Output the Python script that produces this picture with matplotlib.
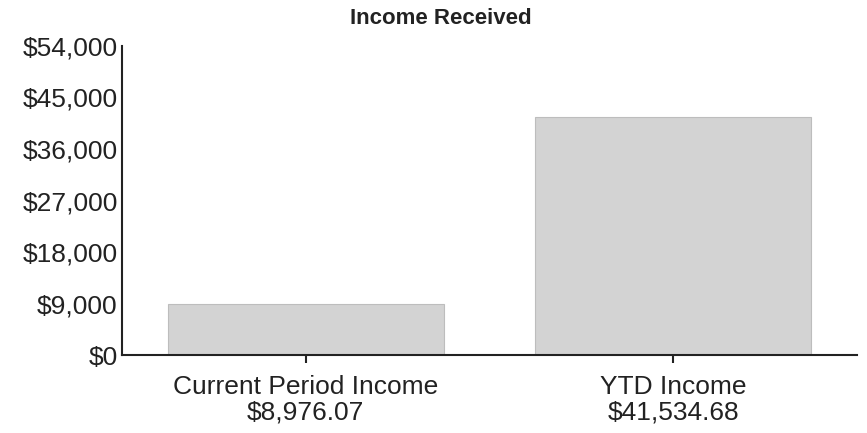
import numpy as np
import matplotlib.pyplot as plt
from matplotlib.ticker import FuncFormatter

# -------- Data --------
categories = ["Current Period Income", "YTD Income"]
amounts = [8976.07, 41534.68]
y_ticks = [0, 9000, 18000, 27000, 36000, 45000, 54000]

plt.rcParams['font.family'] = ['Liberation Sans', 'DejaVu Sans']
text_color = "#222222"

fig = plt.figure(figsize=(8.67, 4.33), dpi=100)
ax = fig.add_axes([0.1407, 0.180, 0.8478, 0.7138])

x = np.arange(len(categories))
ax.bar(x, amounts, width=0.75, color="#d3d3d3", edgecolor="#bdbdbd", linewidth=0.8)

# -------- Axes styling --------
ax.set_xlim(-0.5, 1.5)
ax.set_ylim(0, 54000)
ax.set_yticks(y_ticks)
ax.yaxis.set_major_formatter(FuncFormatter(lambda v, p: "${:,.0f}".format(v)))

labels = [f"{c}\n${a:,.2f}" for c, a in zip(categories, amounts)]
ax.set_xticks(x)
ax.set_xticklabels(labels, fontsize=19, color=text_color, linespacing=1.1)
ax.tick_params(axis="x", length=6, width=1.5, pad=8, color=text_color)
ax.tick_params(axis="y", length=0, pad=3, labelsize=19, labelcolor=text_color)

for side in ["top", "right"]:
    ax.spines[side].set_visible(False)
for side in ["left", "bottom"]:
    ax.spines[side].set_linewidth(1.5)
    ax.spines[side].set_color(text_color)

fig.text(0.508, 0.958, "Income Received", ha="center", va="center",
         fontsize=16, fontweight="bold", color=text_color)

fig.savefig("out.png", dpi=100)
